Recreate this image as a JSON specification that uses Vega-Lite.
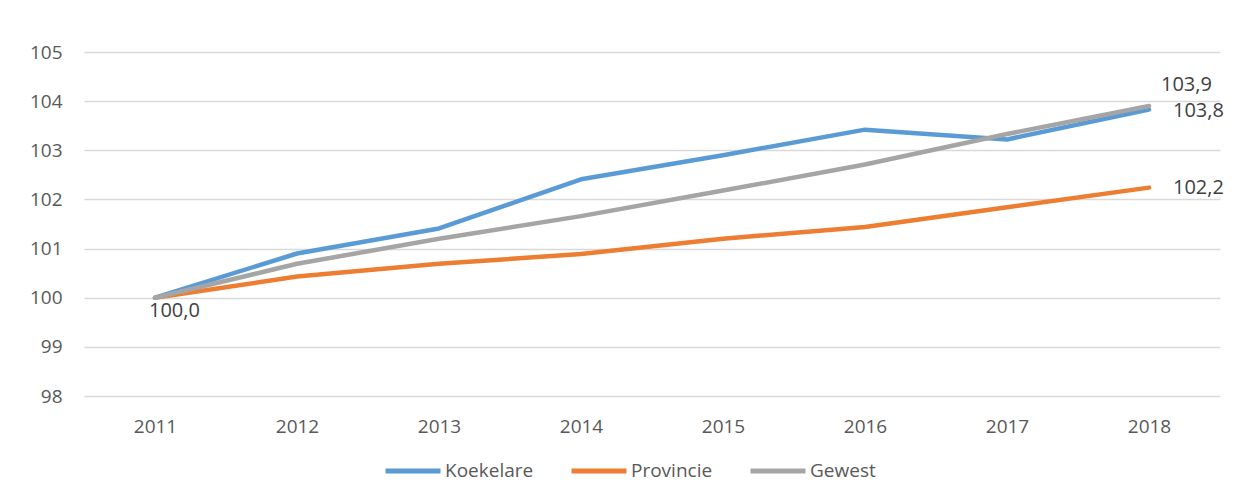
{
  "$schema": "https://vega.github.io/schema/vega-lite/v6.json",
  "width": 1136,
  "height": 344,
  "autosize": {"type": "none"},
  "padding": {"left": 84, "top": 52, "right": 17, "bottom": 104},
  "background": "white",
  "config": {
    "view": {"stroke": null},
    "font": "Open Sans",
    "axis": {"labelColor": "#595959", "labelFontSize": 19, "labelFont": "Open Sans", "ticks": false, "domain": false, "title": null},
    "legend": {"labelColor": "#595959", "labelFontSize": 19, "labelFont": "Open Sans"}
  },
  "data": {
    "values": [
      {"jaar": "2011", "reeks": "Koekelare", "waarde": 100.0},
      {"jaar": "2012", "reeks": "Koekelare", "waarde": 100.9},
      {"jaar": "2013", "reeks": "Koekelare", "waarde": 101.41},
      {"jaar": "2014", "reeks": "Koekelare", "waarde": 102.41},
      {"jaar": "2015", "reeks": "Koekelare", "waarde": 102.9},
      {"jaar": "2016", "reeks": "Koekelare", "waarde": 103.42},
      {"jaar": "2017", "reeks": "Koekelare", "waarde": 103.22},
      {"jaar": "2018", "reeks": "Koekelare", "waarde": 103.83},
      {"jaar": "2011", "reeks": "Provincie", "waarde": 100.0},
      {"jaar": "2012", "reeks": "Provincie", "waarde": 100.43},
      {"jaar": "2013", "reeks": "Provincie", "waarde": 100.69},
      {"jaar": "2014", "reeks": "Provincie", "waarde": 100.89},
      {"jaar": "2015", "reeks": "Provincie", "waarde": 101.2},
      {"jaar": "2016", "reeks": "Provincie", "waarde": 101.44},
      {"jaar": "2017", "reeks": "Provincie", "waarde": 101.84},
      {"jaar": "2018", "reeks": "Provincie", "waarde": 102.24},
      {"jaar": "2011", "reeks": "Gewest", "waarde": 100.0},
      {"jaar": "2012", "reeks": "Gewest", "waarde": 100.69},
      {"jaar": "2013", "reeks": "Gewest", "waarde": 101.2},
      {"jaar": "2014", "reeks": "Gewest", "waarde": 101.66},
      {"jaar": "2015", "reeks": "Gewest", "waarde": 102.18},
      {"jaar": "2016", "reeks": "Gewest", "waarde": 102.71},
      {"jaar": "2017", "reeks": "Gewest", "waarde": 103.33},
      {"jaar": "2018", "reeks": "Gewest", "waarde": 103.9}
    ]
  },
  "encoding": {
    "x": {
      "field": "jaar", "type": "ordinal",
      "scale": {"type": "point", "padding": 0.5},
      "axis": {"labelAngle": 0, "labelPadding": 21}
    },
    "y": {
      "field": "waarde", "type": "quantitative",
      "scale": {"domain": [98, 105], "nice": false, "zero": false},
      "axis": {"values": [98, 99, 100, 101, 102, 103, 104, 105], "labelPadding": 22, "gridColor": "#D9D9D9", "gridWidth": 1.5}
    }
  },
  "layer": [
    {
      "mark": {"type": "line", "strokeWidth": 4.5, "strokeCap": "round", "strokeJoin": "round"},
      "encoding": {
        "color": {
          "field": "reeks", "type": "nominal",
          "scale": {"domain": ["Koekelare", "Provincie", "Gewest"], "range": ["#5B9BD5", "#ED7D31", "#A5A5A5"]},
          "legend": {"orient": "none", "legendX": 299, "legendY": 389, "direction": "horizontal", "title": null, "symbolType": "stroke", "symbolSize": 3025, "symbolStrokeWidth": 5, "columnPadding": 27, "labelOffset": 2}
        }
      }
    },
    {
      "transform": [{"filter": "datum.jaar == '2011' && datum.reeks == 'Koekelare'"}],
      "mark": {"type": "text", "fontSize": 20, "font": "Open Sans", "color": "#404040", "align": "left", "baseline": "top", "dx": -6, "dy": 3},
      "encoding": {"text": {"value": "100,0"}}
    },
    {
      "transform": [{"filter": "datum.jaar == '2018' && datum.reeks == 'Gewest'"}],
      "mark": {"type": "text", "fontSize": 20, "font": "Open Sans", "color": "#404040", "align": "left", "baseline": "bottom", "dx": 12, "dy": -11},
      "encoding": {"text": {"value": "103,9"}}
    },
    {
      "transform": [{"filter": "datum.jaar == '2018' && datum.reeks == 'Koekelare'"}],
      "mark": {"type": "text", "fontSize": 20, "font": "Open Sans", "color": "#404040", "align": "left", "baseline": "middle", "dx": 24, "dy": 2},
      "encoding": {"text": {"value": "103,8"}}
    },
    {
      "transform": [{"filter": "datum.jaar == '2018' && datum.reeks == 'Provincie'"}],
      "mark": {"type": "text", "fontSize": 20, "font": "Open Sans", "color": "#404040", "align": "left", "baseline": "middle", "dx": 24, "dy": 0},
      "encoding": {"text": {"value": "102,2"}}
    }
  ]
}
